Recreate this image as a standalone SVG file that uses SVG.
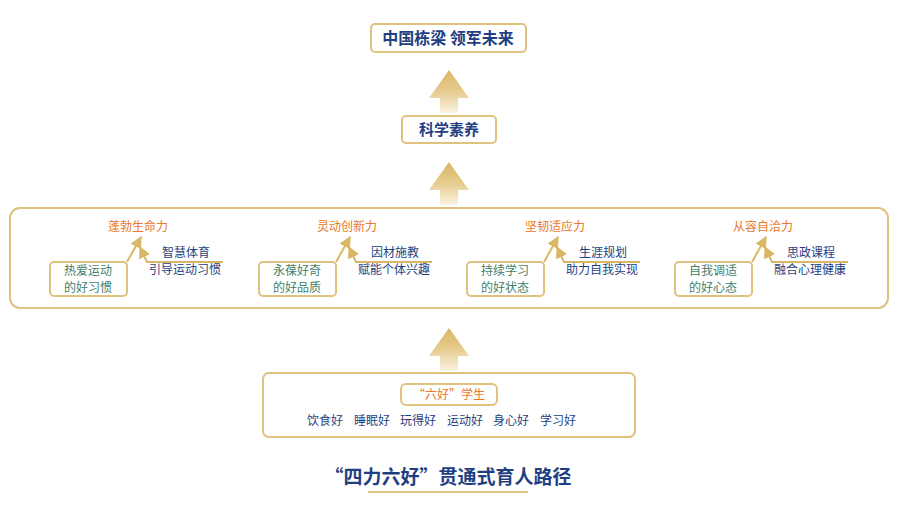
<svg xmlns="http://www.w3.org/2000/svg" width="905" height="513" viewBox="0 0 905 513">
<style>
text{font-family:"Noto Sans CJK SC","Noto Sans",sans-serif;text-anchor:middle}
.box{fill:#fff;stroke:#e0c27e;stroke-width:2}
.navy{fill:#1f3f82}
.or{fill:#e8782a;font-size:12px}
.gr{fill:#3f7f6a;font-size:12px}
.sm{fill:#1f3f82;font-size:12px}
.ln{fill:none;stroke:#d9b764;stroke-width:2}
</style>
<defs>
<linearGradient id="g" x1="0" y1="0" x2="0" y2="1"><stop offset="0" stop-color="#d9b764"/><stop offset="0.5" stop-color="#e6cc8f"/><stop offset="1" stop-color="#faf3e2"/></linearGradient>
<marker id="ah" viewBox="0 0 10 10" refX="9" refY="5" markerWidth="6" markerHeight="6" orient="auto"><path d="M0,0L10,5L0,10z" fill="#d9b764"/></marker>
<symbol id="arrow" overflow="visible"><path d="M20,0L40,28H29V43H11V28H0z" fill="url(#g)"/></symbol>
</defs>
<g id="connectors">
<use href="#arrow" x="429" y="70"/>
<use href="#arrow" x="429" y="162"/>
<use href="#arrow" x="429" y="328"/>
</g>
<g id="top"><rect class="box" x="371" y="24" width="155" height="28" rx="4"/><text class="navy" x="448" y="44" font-size="16" font-weight="bold">中国栋梁 领军未来</text></g>
<g id="sci"><rect class="box" x="402" y="116" width="94" height="27" rx="4"/><text class="navy" x="449" y="135" font-size="15" font-weight="bold">科学素养</text></g>
<g id="panel"><rect class="box" x="10" y="208" width="878" height="100" rx="10"/></g>
<g id="p1" transform="translate(50,0)">
<text class="or" x="88" y="231">蓬勃生命力</text>
<path class="ln" d="M77,262L91,237" marker-end="url(#ah)"/>
<path class="ln" d="M173,262H97L90,247" marker-end="url(#ah)"/>
<text class="sm" x="136" y="257">智慧体育</text><text class="sm" x="135" y="274">引导运动习惯</text>
<rect class="box" x="0" y="262" width="77" height="34" rx="4"/>
<text class="gr" x="38" y="275">热爱运动</text><text class="gr" x="38" y="292">的好习惯</text>
</g>
<g id="p2" transform="translate(259,0)">
<text class="or" x="88" y="231">灵动创新力</text>
<path class="ln" d="M77,262L91,237" marker-end="url(#ah)"/>
<path class="ln" d="M173,262H97L90,247" marker-end="url(#ah)"/>
<text class="sm" x="136" y="257">因材施教</text><text class="sm" x="135" y="274">赋能个体兴趣</text>
<rect class="box" x="0" y="262" width="77" height="34" rx="4"/>
<text class="gr" x="38" y="275">永葆好奇</text><text class="gr" x="38" y="292">的好品质</text>
</g>
<g id="p3" transform="translate(467,0)">
<text class="or" x="88" y="231">坚韧适应力</text>
<path class="ln" d="M77,262L91,237" marker-end="url(#ah)"/>
<path class="ln" d="M173,262H97L90,247" marker-end="url(#ah)"/>
<text class="sm" x="136" y="257">生涯规划</text><text class="sm" x="135" y="274">助力自我实现</text>
<rect class="box" x="0" y="262" width="77" height="34" rx="4"/>
<text class="gr" x="38" y="275">持续学习</text><text class="gr" x="38" y="292">的好状态</text>
</g>
<g id="p4" transform="translate(675,0)">
<text class="or" x="88" y="231">从容自洽力</text>
<path class="ln" d="M77,262L91,237" marker-end="url(#ah)"/>
<path class="ln" d="M173,262H97L90,247" marker-end="url(#ah)"/>
<text class="sm" x="136" y="257">思政课程</text><text class="sm" x="135" y="274">融合心理健康</text>
<rect class="box" x="0" y="262" width="77" height="34" rx="4"/>
<text class="gr" x="38" y="275">自我调适</text><text class="gr" x="38" y="292">的好心态</text>
</g>
<g id="bottom">
<rect class="box" x="263" y="373" width="372" height="64" rx="6"/>
<rect class="box" x="401" y="384" width="96" height="21" rx="5"/>
<text class="or" x="449" y="399">“六好”学生</text>
<text class="sm" x="325" y="425">饮食好</text>
<text class="sm" x="372" y="425">睡眠好</text>
<text class="sm" x="418" y="425">玩得好</text>
<text class="sm" x="465" y="425">运动好</text>
<text class="sm" x="511" y="425">身心好</text>
<text class="sm" x="558" y="425">学习好</text>
</g>
<g id="title">
<text class="navy" x="448" y="484" font-size="19" font-weight="bold">“四力六好”贯通式育人路径</text>
<line x1="368" y1="492" x2="528" y2="492" stroke="#e0c27e" stroke-width="2"/>
</g>
</svg>
